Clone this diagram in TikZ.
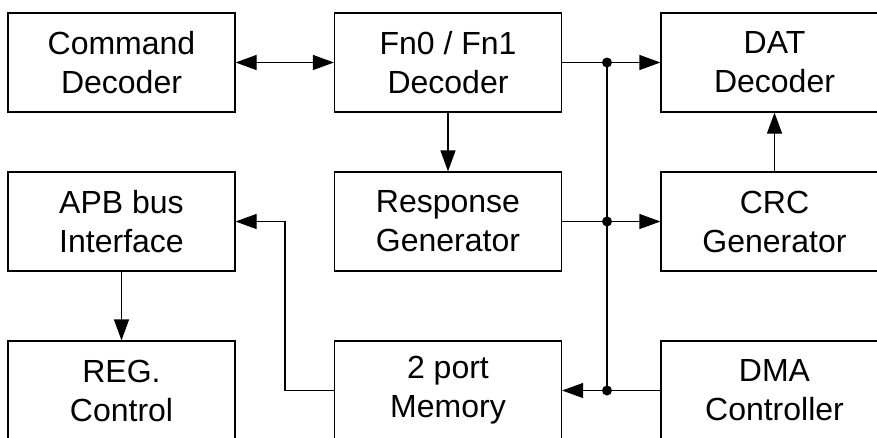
\documentclass[tikz,border=0pt]{standalone}
\usepackage{fontspec}
\setmainfont{Liberation Sans}
\usetikzlibrary{arrows.meta}
\begin{document}
\begin{tikzpicture}[x=1pt,y=-1pt,
  blk/.style={draw,line width=1.2pt,minimum width=227pt,minimum height=99pt,inner sep=0pt,align=center,font=\fontsize{32}{39}\selectfont},
  conn/.style={line width=1.2pt},
  tip/.tip={Triangle[length=21pt,width=15pt]},
  arr/.style={conn,-tip},
  darr/.style={conn,tip-tip},
  dot/.style={circle,fill=black,inner sep=0pt,minimum size=10pt}]
\useasboundingbox (0,0) rectangle (877,437);
\clip (0,0) rectangle (877,437);
\node[blk] (cmd) at (121.5,62.5) {Command\\Decoder};
\node[blk] (fn) at (448,62.5) {Fn0 / Fn1\\Decoder};
\node[blk] (dat) at (774.5,62.5) {DAT\\Decoder};
\node[blk] (apb) at (121.5,221.5) {APB bus\\Interface};
\node[blk] (resp) at (448,221.5) {Response\\Generator};
\node[blk] (crc) at (774.5,221.5) {CRC\\Generator};
\node[blk] (reg) at (121.5,390.5) {REG.\\Control};
\node[blk] (mem) at (448,390.5) {2 port\\Memory};
\node[blk] (dma) at (774.5,390.5) {DMA\\Controller};
\coordinate (j1) at (607,62.5);
\coordinate (j2) at (607,221.5);
\coordinate (j3) at (607,390.5);
\coordinate (b1) at (285,390.5);
\draw[darr] (cmd.east) -- (fn.west);
\draw[conn] (fn.east) -- (j1);
\draw[arr] (j1) -- (dat.west);
\draw[conn] (j1) -- (j3);
\draw[conn] (resp.east) -- (j2);
\draw[arr] (j2) -- (crc.west);
\draw[conn] (dma.west) -- (j3);
\draw[arr] (j3) -- (mem.east);
\draw[arr] (crc.north) -- (dat.south);
\draw[arr] (fn.south) -- (resp.north);
\draw[arr] (apb.south) -- (reg.north);
\draw[arr] (mem.west) -- (b1) |- (apb.east);
\node[dot] at (j1) {};
\node[dot] at (j2) {};
\node[dot] at (j3) {};
\end{tikzpicture}
\end{document}
